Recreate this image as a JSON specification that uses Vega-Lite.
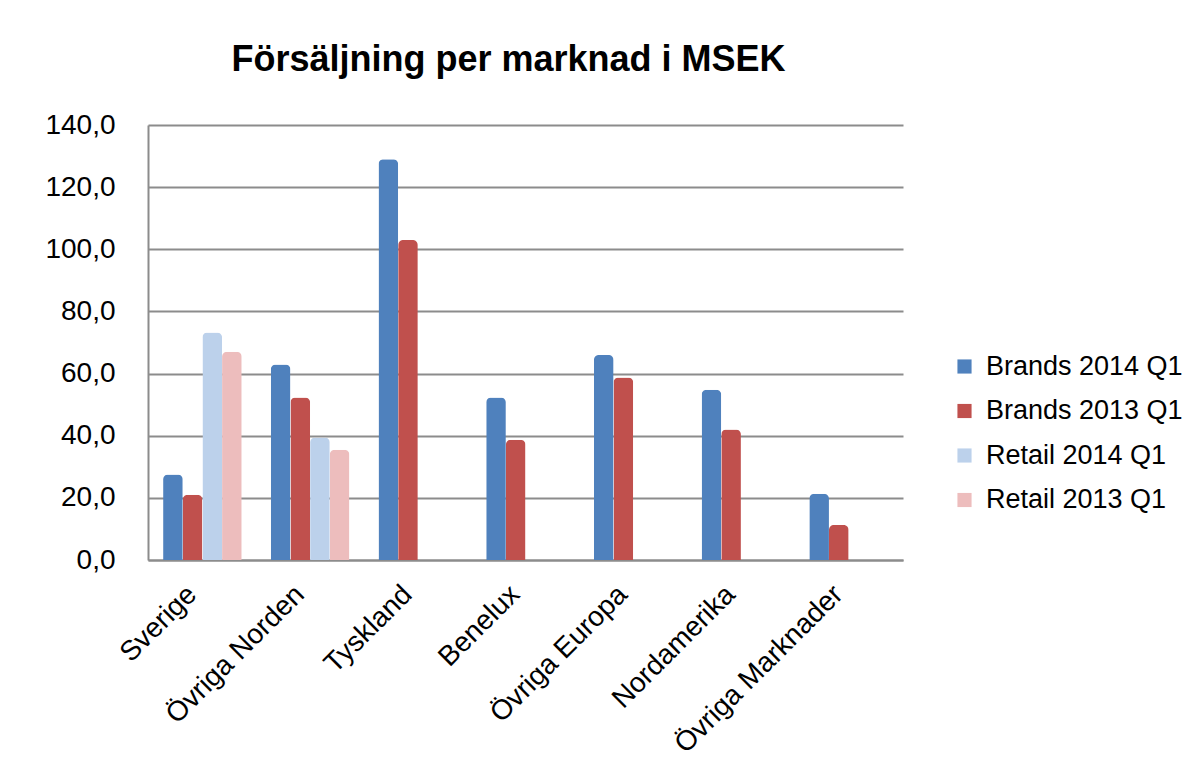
{
  "$schema": "https://vega.github.io/schema/vega-lite/v6.json",
  "width": 755,
  "height": 435,
  "autosize": {"type": "none"},
  "padding": {"left": 148, "top": 125, "right": 297, "bottom": 216},
  "background": "white",
  "title": {
    "text": "Försäljning per marknad i MSEK",
    "font": "Liberation Sans",
    "fontSize": 36,
    "fontWeight": "bold",
    "color": "#000000",
    "anchor": "middle",
    "dx": -17,
    "offset": 32
  },
  "data": {
    "values": [
      {"market": "Sverige", "series": "Brands 2014 Q1", "value": 27.5},
      {"market": "Sverige", "series": "Brands 2013 Q1", "value": 21.0},
      {"market": "Sverige", "series": "Retail 2014 Q1", "value": 73.2},
      {"market": "Sverige", "series": "Retail 2013 Q1", "value": 67.0},
      {"market": "Övriga Norden", "series": "Brands 2014 Q1", "value": 62.9},
      {"market": "Övriga Norden", "series": "Brands 2013 Q1", "value": 52.3},
      {"market": "Övriga Norden", "series": "Retail 2014 Q1", "value": 39.4},
      {"market": "Övriga Norden", "series": "Retail 2013 Q1", "value": 35.5},
      {"market": "Tyskland", "series": "Brands 2014 Q1", "value": 129.0},
      {"market": "Tyskland", "series": "Brands 2013 Q1", "value": 103.0},
      {"market": "Benelux", "series": "Brands 2014 Q1", "value": 52.3},
      {"market": "Benelux", "series": "Brands 2013 Q1", "value": 38.7},
      {"market": "Övriga Europa", "series": "Brands 2014 Q1", "value": 66.0},
      {"market": "Övriga Europa", "series": "Brands 2013 Q1", "value": 58.7},
      {"market": "Nordamerika", "series": "Brands 2014 Q1", "value": 54.8},
      {"market": "Nordamerika", "series": "Brands 2013 Q1", "value": 42.0},
      {"market": "Övriga Marknader", "series": "Brands 2014 Q1", "value": 21.3},
      {"market": "Övriga Marknader", "series": "Brands 2013 Q1", "value": 11.3}
    ]
  },
  "mark": {"type": "bar", "cornerRadiusTopLeft": 5, "cornerRadiusTopRight": 5},
  "encoding": {
    "x": {
      "field": "market",
      "type": "nominal",
      "sort": ["Sverige", "Övriga Norden", "Tyskland", "Benelux", "Övriga Europa", "Nordamerika", "Övriga Marknader"],
      "scale": {"paddingInner": 0.27, "paddingOuter": 0.14},
      "axis": {
        "title": null,
        "labelAngle": -45,
        "labelAlign": "right",
        "labelBaseline": "middle",
        "labelFont": "Liberation Sans",
        "labelFontSize": 28,
        "labelColor": "#000000",
        "labelPadding": 30,
        "labelOffset": -10,
        "ticks": false,
        "domainColor": "#8c8c8c",
        "domainWidth": 2,
        "labelOverlap": false,
        "labelLimit": 0
      }
    },
    "xOffset": {
      "field": "series",
      "type": "nominal",
      "sort": ["Brands 2014 Q1", "Brands 2013 Q1", "Retail 2014 Q1", "Retail 2013 Q1"]
    },
    "y": {
      "field": "value",
      "type": "quantitative",
      "scale": {"domain": [0, 140]},
      "axis": {
        "title": null,
        "values": [0, 20, 40, 60, 80, 100, 120, 140],
        "labelExpr": "replace(format(datum.value, '.1f'), '.', ',')",
        "labelFont": "Liberation Sans",
        "labelFontSize": 28,
        "labelColor": "#000000",
        "labelPadding": 33,
        "ticks": false,
        "gridColor": "#8c8c8c",
        "gridWidth": 2,
        "domainColor": "#8c8c8c",
        "domainWidth": 2
      }
    },
    "color": {
      "field": "series",
      "type": "nominal",
      "sort": ["Brands 2014 Q1", "Brands 2013 Q1", "Retail 2014 Q1", "Retail 2013 Q1"],
      "scale": {"range": ["#4F81BD", "#C0504D", "#BCD1EB", "#EDBDBD"]},
      "legend": {
        "title": null,
        "orient": "none",
        "legendX": 803,
        "legendY": 228,
        "symbolType": "square",
        "symbolSize": 200,
        "symbolStrokeWidth": 0,
        "labelFont": "Liberation Sans",
        "labelFontSize": 27,
        "labelColor": "#000000",
        "labelLimit": 0,
        "rowPadding": 16.5,
        "labelOffset": 8
      }
    }
  },
  "config": {"view": {"stroke": null}}
}
